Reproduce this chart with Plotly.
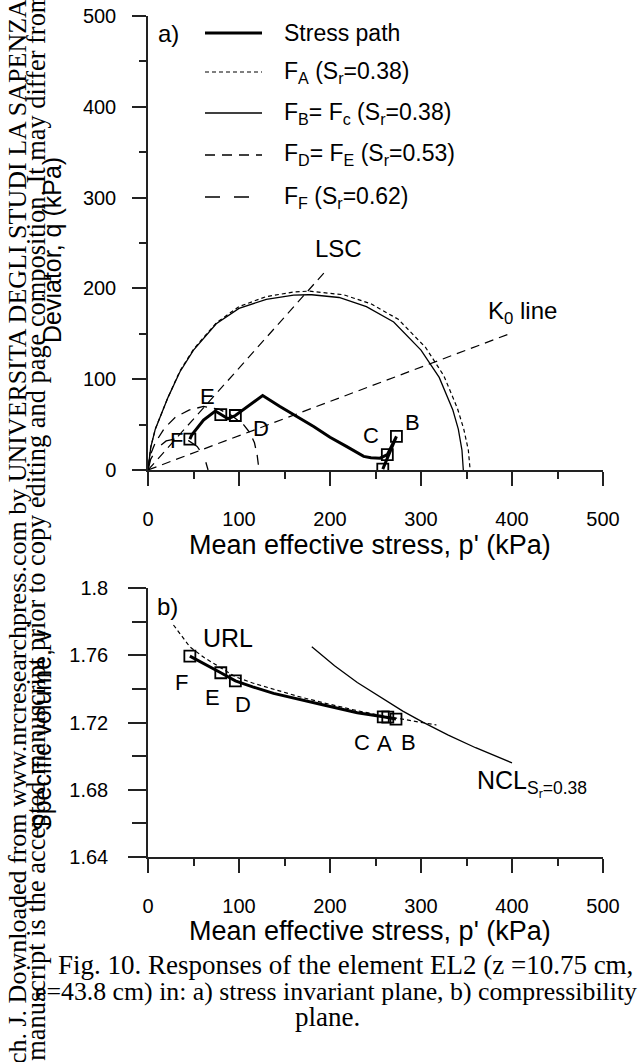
import plotly.graph_objects as go

# ---------------- data: (a) stress invariant plane ----------------
path_p_a = [258, 273, 263, 255, 245, 237, 218, 200, 182, 163, 145, 126, 111, 96, 88, 80, 74, 61, 48, 46]
path_q_a = [1, 37, 17, 13, 13.5, 15, 26, 36, 48, 59, 70, 82, 71, 60, 56.5, 61, 65, 55, 38.5, 34]

pts_names = ["A", "B", "C", "D", "E", "F"]
pts_p_a = [258, 273, 263, 96, 80, 46]
pts_q_a = [1, 37, 17, 60, 61, 34]

FA_p = [0, 3, 8, 13, 22, 35, 50, 75, 100, 130, 160, 177, 185, 215, 245, 275, 305, 325, 340, 347, 352, 354]
FA_q = [0, 25, 45, 57, 80, 109, 133, 162, 180, 191, 196, 197, 196, 193, 183, 166, 135, 104, 68, 45, 22, 0]

FB_p = [0, 3, 8, 13, 22, 35, 50, 75, 100, 130, 160, 176, 180, 210, 240, 270, 300, 320, 335, 341, 345, 346.5]
FB_q = [0, 25, 45, 57, 80, 108, 132, 161, 178, 188, 192.5, 193, 193, 190, 180, 163, 132, 102, 66, 45, 22, 0]

FD_p = [0, 2, 8, 18, 30, 45, 61, 78, 92, 105, 112, 117, 120, 122]
FD_q = [0, 15, 30, 46, 58, 66, 70, 67, 60, 50, 41, 30, 16, 0]

FF_p = [0, 3, 10, 20, 33, 45, 54, 62, 66]
FF_q = [0, 12, 24, 32, 35, 32, 26, 14, 0]

LSC_p = [0, 196]
LSC_q = [0, 220]
K0_p = [0, 400]
K0_q = [0, 151]

# ---------------- data: (b) compressibility plane ----------------
path_p_b = [263.5, 272.5, 258.5, 230, 193, 160, 138, 115, 96, 80, 46]
path_v_b = [1.7232, 1.7220, 1.7234, 1.7258, 1.7304, 1.7345, 1.7373, 1.7412, 1.7448, 1.7496, 1.7595]

pts_p_b = [263.5, 272.5, 258.5, 96, 80, 46]
pts_v_b = [1.7232, 1.7220, 1.7234, 1.7448, 1.7496, 1.7595]

URL_p = [28, 46, 62, 79, 96, 115, 138, 165, 193, 230, 260, 290, 317]
URL_v = [1.778, 1.765, 1.7585, 1.7527, 1.7472, 1.7435, 1.7400, 1.7355, 1.7317, 1.7270, 1.7238, 1.7208, 1.7185]

NCL_p = [180, 205, 230, 255, 280, 302, 330, 360, 400]
NCL_v = [1.765, 1.7537, 1.7438, 1.7355, 1.7268, 1.7202, 1.7125, 1.7050, 1.6960]

x_ticks = [0, 100, 200, 300, 400, 500]
q_ticks = [0, 100, 200, 300, 400, 500]
v_ticks = [1.64, 1.68, 1.72, 1.76, 1.80]
v_ticktext = ["1.64", "1.68", "1.72", "1.76", "1.8"]

legend_labels = [
    "Stress path",
    "F<sub>A</sub> (S<sub>r</sub>=0.38)",
    "F<sub>B</sub>= F<sub>c</sub> (S<sub>r</sub>=0.38)",
    "F<sub>D</sub>= F<sub>E</sub> (S<sub>r</sub>=0.53)",
    "F<sub>F</sub> (S<sub>r</sub>=0.62)",
]

# ---------------- figure ----------------
W, H = 642, 1062
SANS = "Liberation Sans, Arial, sans-serif"
SERIF = "Liberation Serif, Times New Roman, serif"
INK = "#000000"
AX = "#222222"


def px(x):
    return x / W


def py(y):
    return 1 - y / H


fig = go.Figure()


def line(x, y, width, dash="solid", xa="x", ya="y"):
    fig.add_trace(go.Scatter(x=x, y=y, mode="lines", xaxis=xa, yaxis=ya,
                             line=dict(color=INK, width=width, dash=dash),
                             showlegend=False, hoverinfo="skip"))


# (a)
line(FA_p, FA_q, 1.2, "4px,3px")
line(FB_p, FB_q, 1.3)
line(FD_p, FD_q, 1.3, "10px,7px")
line(FF_p, FF_q, 1.3, "15px,14px")
line(LSC_p, LSC_q, 1.2, "9px,6px")
line(K0_p, K0_q, 1.2, "9px,6px")
line(path_p_a, path_q_a, 3)
fig.add_trace(go.Scatter(x=pts_p_a, y=pts_q_a, mode="markers", xaxis="x", yaxis="y",
                         marker=dict(symbol="square-open", size=11, color=INK, line=dict(width=1.8, color=INK)),
                         showlegend=False, hoverinfo="skip"))

# (b)
line(URL_p, URL_v, 1.2, "4px,3px", "x2", "y2")
line(NCL_p, NCL_v, 1.3, "solid", "x2", "y2")
line(path_p_b, path_v_b, 3, "solid", "x2", "y2")
fig.add_trace(go.Scatter(x=pts_p_b, y=pts_v_b, mode="markers", xaxis="x2", yaxis="y2",
                         marker=dict(symbol="square-open", size=11, color=INK, line=dict(width=1.8, color=INK)),
                         showlegend=False, hoverinfo="skip"))

axis_common = dict(showgrid=False, zeroline=False, showline=True, linewidth=1.5, linecolor=AX,
                   ticks="outside", tickwidth=1.5, tickcolor=AX, automargin=False,
                   tickfont=dict(family=SANS, size=20, color=INK))

xdom = [px(148), px(603)]
fig.update_layout(
    template="none",
    width=W, height=H, margin=dict(l=0, r=0, t=0, b=0, pad=0), autosize=False,
    paper_bgcolor="white", plot_bgcolor="white", showlegend=False,
    xaxis=dict(domain=xdom, range=[0, 500], tickvals=x_ticks, ticklen=14, ticklabelstandoff=16,
               minor=dict(dtick=50, ticklen=7, tickwidth=1.5, tickcolor=AX, ticks="outside"),
               anchor="y", **axis_common),
    yaxis=dict(domain=[py(470), py(16)], range=[0, 500], tickvals=q_ticks, ticklen=14, ticklabelstandoff=12,
               minor=dict(dtick=50, ticklen=7, tickwidth=1.5, tickcolor=AX, ticks="outside"),
               anchor="x", **axis_common),
    xaxis2=dict(domain=xdom, range=[0, 500], tickvals=x_ticks, ticklen=14, ticklabelstandoff=16,
                minor=dict(dtick=50, ticklen=7, tickwidth=1.5, tickcolor=AX, ticks="outside"),
                anchor="y2", **axis_common),
    yaxis2=dict(domain=[py(857), py(588)], range=[1.64, 1.80], tickvals=v_ticks, ticktext=v_ticktext,
                ticklen=18, ticklabelstandoff=16,
                minor=dict(dtick=0.02, tick0=1.64, ticklen=14, tickwidth=1.5, tickcolor=AX, ticks="outside"),
                anchor="x2", **axis_common),
)

ann = []


def text(x, y, s, size, xref="paper", yref="paper", font=SANS, xanchor="center", yanchor="middle", angle=0):
    ann.append(dict(x=x, y=y, xref=xref, yref=yref, text=s, showarrow=False, textangle=angle,
                    xanchor=xanchor, yanchor=yanchor, font=dict(family=font, size=size, color=INK)))


# axis titles
text(px(370), py(545), "Mean effective stress, p' (kPa)", 27)
text(px(370), py(931), "Mean effective stress, p' (kPa)", 27)
text(px(52), py(250), "Deviator, q (kPa)", 25, angle=-90)
text(px(42), py(730), "Specific volume, v", 25, angle=-90)

# panel labels and curve labels (data coordinates)
text(22, 481, "a)", 24, "x", "y")
text(209, 244, "LSC", 24, "x", "y")
text(411, 173, "K<sub>0</sub> line", 24, "x", "y")
a_lab = {"A": (265, -28.5), "B": (291, 52), "C": (245, 37.5), "D": (124, 46), "E": (65, 80.5), "F": (31, 32)}
for k, (xx, yy) in a_lab.items():
    text(xx, yy, k, 22, "x", "y")

text(21, 1.7892, "b)", 24, "x2", "y2")
text(88, 1.7705, "URL", 25, "x2", "y2")
text(359, 1.6840, "NCL<sub>S<sub>r</sub>=0.38</sub>", 25, "x2", "y2", xanchor="left")
b_lab = {"F": (36.3, 1.7440), "E": (71.4, 1.7351), "D": (104.4, 1.7310),
         "C": (235.2, 1.7084), "A": (260.4, 1.7078), "B": (286.8, 1.7084)}
for k, (xx, yy) in b_lab.items():
    text(xx, yy, k, 22, "x2", "y2")

# legend (manual)
leg_rows = [33, 72, 113, 155, 197]
leg_styles = [(3, "solid"), (1.2, "4px,3px"), (1.3, "solid"), (1.3, "10px,7px"), (1.3, "15px,14px")]
shapes = []
for yrow, (wdt, dsh), lab in zip(leg_rows, leg_styles, legend_labels):
    shapes.append(dict(type="line", xref="paper", yref="paper", x0=px(205), x1=px(262), y0=py(yrow), y1=py(yrow),
                       line=dict(color=INK, width=wdt, dash=dsh)))
    text(px(282), py(yrow), lab, 23, xanchor="left")

# caption
text(px(345), py(965), "Fig. 10. Responses of the element EL2 (z =10.75 cm,", 27, font=SERIF)
text(px(336), py(991), "e=43.8 cm) in: a) stress invariant plane, b) compressibility", 25.8, font=SERIF)
text(px(328), py(1017), "plane.", 27, font=SERIF)

# side watermark
text(px(17), 1 + 3 / H, "Can. Geotech. J. Downloaded from www.nrcresearchpress.com by UNIVERSITA DEGLI STUDI LA SAPENZA",
     26, font=SERIF, yanchor="top", angle=-90)
text(px(35), 1 - 1201 / H,
     "This Just-IN manuscript is the accepted manuscript prior to copy editing and page composition. It may differ from the final official version of record.",
     26.4, font=SERIF, yanchor="bottom", angle=-90)

fig.update_layout(annotations=ann, shapes=shapes)
fig.write_html("out.html")
